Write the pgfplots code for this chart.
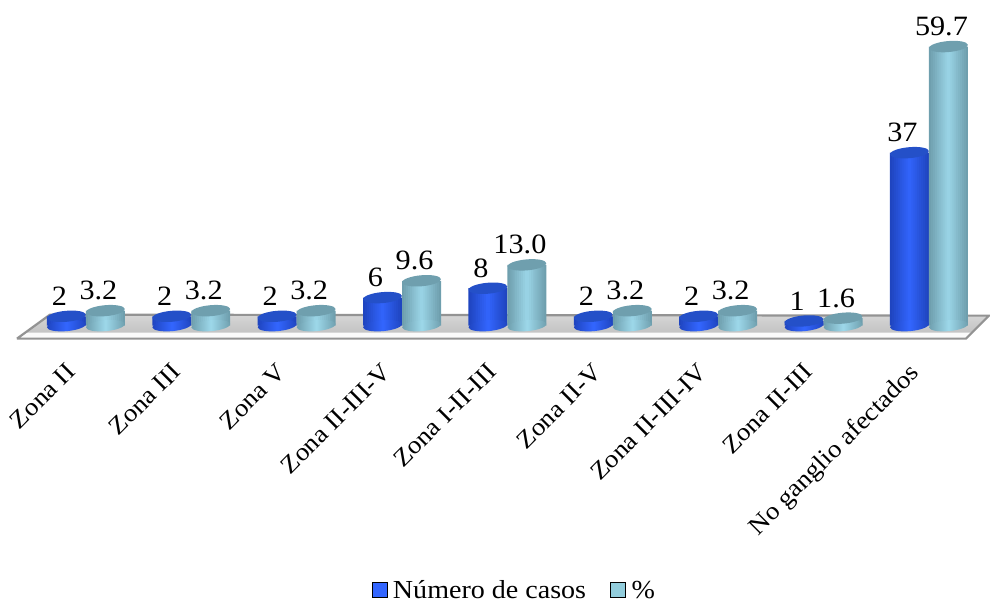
\documentclass[border=0pt]{standalone}
\usepackage{fontspec}
\setmainfont[FakeStretch=1.08]{Liberation Serif}
\usepackage{pgfplots}
\usepackage{pgfplotstable}
\pgfplotsset{compat=1.18}

\definecolor{blueside}{HTML}{1F45C0}
\definecolor{bluemid}{HTML}{3366FF}
\definecolor{bluetop}{HTML}{2450C8}
\definecolor{lightside}{HTML}{6F9FAE}
\definecolor{lightmid}{HTML}{9DD8EA}
\definecolor{lighttop}{HTML}{6F9FAE}
\definecolor{legendblue}{HTML}{3366FF}
\definecolor{legendlight}{HTML}{92CDDC}

\pgfdeclarehorizontalshading{bluecyl}{100bp}{color(0bp)=(blueside);color(25bp)=(blueside);color(50bp)=(bluemid);color(75bp)=(blueside);color(100bp)=(blueside)}
\pgfdeclarehorizontalshading{lightcyl}{100bp}{color(0bp)=(lightside);color(25bp)=(lightside);color(50bp)=(lightmid);color(75bp)=(lightside);color(100bp)=(lightside)}

% ellipses of the cylinders, tilted by 5 degrees
\newcommand{\capellipse}{\pgfpathellipse{\pgfpointorigin}{\pgfqpoint{19.43pt}{1.7pt}}{\pgfqpoint{-0.48pt}{5.48pt}}}
\pgfdeclareplotmark{bluebase}{\capellipse\pgfshadepath{bluecyl}{0}\pgfusepath{discard}}
\pgfdeclareplotmark{lightbase}{\capellipse\pgfshadepath{lightcyl}{0}\pgfusepath{discard}}
\pgfdeclareplotmark{cap}{\capellipse\pgfusepathqfill}

\pgfplotstableread{
x      y
-0.185 2
0.815  2
1.815  2
2.815  6
3.815  8
4.815  2
5.815  2
6.815  1
7.815  37
}\casos
\pgfplotstableread{
x      y
0.185  3.2
1.185  3.2
2.185  3.2
3.185  9.6
4.185  13.0
5.185  3.2
6.185  3.2
7.185  1.6
8.185  59.7
}\pct
\pgfplotstableread{
x      y
-0.185 0
0.815  0
1.815  0
2.815  0
3.815  0
4.815  0
5.815  0
6.815  0
7.815  0
}\casosbase
\pgfplotstableread{
x      y
0.185  0
1.185  0
2.185  0
3.185  0
4.185  0
5.185  0
6.185  0
7.185  0
8.185  0
}\pctbase

\begin{document}
\begin{tikzpicture}
\begin{axis}[
  scale only axis,
  width=990pt, height=602pt,
  xmin=-0.815, xmax=8.569,
  ymin=-58.97, ymax=69.66,
  clip=false,
  axis line style={draw=none},
  tick style={draw=none},
  ytick=\empty,
  xtick={0,1,2,3,4,5,6,7,8},
  xticklabels={Zona II,Zona III,Zona V,Zona II-III-V,Zona I-II-III,Zona II-V,Zona II-III-IV,Zona II-III,No ganglio afectados},
  xticklabel style={yshift=240pt,xshift=-21pt,rotate=45,anchor=north east,font=\fontsize{25}{28}\selectfont,inner sep=0pt},
  /pgf/number format/assume math mode=true,
  nodes near coords style={font=\fontsize{28}{30}\selectfont,xshift=-7pt,yshift=7pt,text=black},
  legend style={at={(0.52,0.018)},anchor=center,draw=none,fill=none,
    legend columns=2,font=\fontsize{26}{28}\selectfont,
    /tikz/every odd column/.append style={column sep=4pt},
    /tikz/every even column/.append style={column sep=22pt}},
  legend image code/.code={\fill[#1] (0pt,-7pt) rectangle (15pt,8pt);},
]
% floor
\addplot[forget plot,draw=none,top color=gray!32,bottom color=gray!52]
  coordinates {(-0.654,-2.78) (8.351,-2.78) (8.569,2.14) (-0.341,2.35) (-0.654,-2.78)};
\addplot[forget plot,draw=none,fill=white!96!gray]
  coordinates {(-0.654,-2.78) (8.351,-2.78) (8.408,-1.5) (-0.578,-1.5) (-0.654,-2.78)};
\addplot[forget plot,draw=gray!85,line width=2.2pt]
  coordinates {(-0.654,-2.78) (8.351,-2.78) (8.569,2.14) (-0.341,2.35) (-0.654,-2.78)};

% numero de casos
\addplot[forget plot,only marks,mark=bluebase] table {\casosbase};
\addplot[forget plot,ybar,bar width=39pt,bar shift=0pt,draw=none,fill=blueside] table {\casos};
\pgfplotsinvokeforeach{1,2,3,4,5,6,7,8,9}{
  \addplot[forget plot,ybar,bar width={39pt-#1*3.9pt},bar shift=0pt,draw=none,fill=bluemid!#10!blueside] table {\casos};
}
\addplot[forget plot,only marks,mark=cap,color=bluetop,
  nodes near coords,
  nodes near coords style={/pgf/number format/precision=0}] table {\casos};

% porcentaje
\addplot[forget plot,only marks,mark=lightbase] table {\pctbase};
\addplot[forget plot,ybar,bar width=39pt,bar shift=0pt,draw=none,fill=lightside] table {\pct};
\pgfplotsinvokeforeach{1,2,3,4,5,6,7,8,9}{
  \addplot[forget plot,ybar,bar width={39pt-#1*3.9pt},bar shift=0pt,draw=none,fill=lightmid!#10!lightside] table {\pct};
}
\addplot[forget plot,only marks,mark=cap,color=lighttop,
  nodes near coords,
  nodes near coords style={/pgf/number format/fixed,/pgf/number format/fixed zerofill,/pgf/number format/precision=1}] table {\pct};

\addlegendimage{fill=legendblue}
\addlegendentry{Número de casos}
\addlegendimage{fill=legendlight}
\addlegendentry{\%}
\end{axis}
\end{tikzpicture}
\end{document}
